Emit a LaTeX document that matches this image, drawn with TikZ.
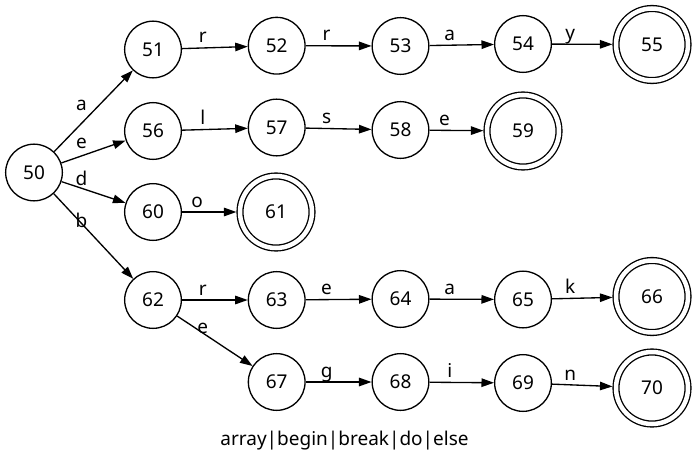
\documentclass[tikz,border=0pt]{standalone}
\usepackage{fontspec}
\setmainfont{Noto Sans}
\usetikzlibrary{arrows.meta}
\begin{document}
\begin{tikzpicture}[x=1pt,y=-1pt,line width=1.33pt,>={Triangle[length=12.5pt,width=8.5pt]},
    every node/.style={font=\fontsize{19pt}{23pt}\selectfont},
    state/.style={draw,circle,inner sep=0pt,minimum size=56.7pt},
    accept/.style={state,double,double distance=4.5pt,minimum size=72pt,outer sep=3.6pt},
    lbl/.style={anchor=base,xshift=-12pt,yshift=5pt}]
    \useasboundingbox (0,0) rectangle (697,453);
    \node [state] (50) at (34,172.5) {50};
    \node [state] (51) at (153,49.5) {51};
    \node [state] (52) at (276.7,45.7) {52};
    \node [state] (53) at (400.5,46) {53};
    \node [state] (54) at (523,44) {54};
    \node [accept] (55) at (652,44.5) {55};
    \node [state] (56) at (153,131) {56};
    \node [state] (57) at (276.7,127.5) {57};
    \node [state] (58) at (400.5,130) {58};
    \node [accept] (59) at (523,131) {59};
    \node [state] (60) at (153,212) {60};
    \node [accept] (61) at (276,212) {61};
    \node [state] (62) at (153,300) {62};
    \node [state] (63) at (276.7,300) {63};
    \node [state] (64) at (400.5,299) {64};
    \node [state] (65) at (523,299.5) {65};
    \node [accept] (66) at (652,296.5) {66};
    \node [state] (67) at (276.7,382) {67};
    \node [state] (68) at (400.5,382) {68};
    \node [state] (69) at (523,383) {69};
    \node [accept] (70) at (652,388) {70};
    \node [anchor=base] (words) at (344.5,445) {array|begin|break|do|else};
    \draw [->] (50) -- node [lbl,yshift=-4pt] {a} (51);
    \draw [->] (50) -- node [lbl,yshift=-2pt] {e} (56);
    \draw [->] (50) -- node [lbl,yshift=1.5pt] {d} (60);
    \draw [->] (50) -- node [lbl,yshift=4pt] {b} (62);
    \draw [->] (51) -- node [lbl] {r} (52);
    \draw [->] (52) -- node [lbl] {r} (53);
    \draw [->] (53) -- node [lbl] {a} (54);
    \draw [->] (54) -- node [lbl] {y} (55);
    \draw [->] (56) -- node [lbl] {l} (57);
    \draw [->] (57) -- node [lbl] {s} (58);
    \draw [->] (58) -- node [lbl] {e} (59);
    \draw [->] (60) -- node [lbl] {o} (61);
    \draw [->] (62) -- node [lbl] {r} (63);
    \draw [->] (63) -- node [lbl] {e} (64);
    \draw [->] (64) -- node [lbl] {a} (65);
    \draw [->] (65) -- node [lbl] {k} (66);
    \draw [->] (62) -- node [lbl,yshift=2.7pt] {e} (67);
    \draw [->] (67) -- node [lbl] {g} (68);
    \draw [->] (68) -- node [lbl] {i} (69);
    \draw [->] (69) -- node [lbl] {n} (70);
\end{tikzpicture}
\end{document}
